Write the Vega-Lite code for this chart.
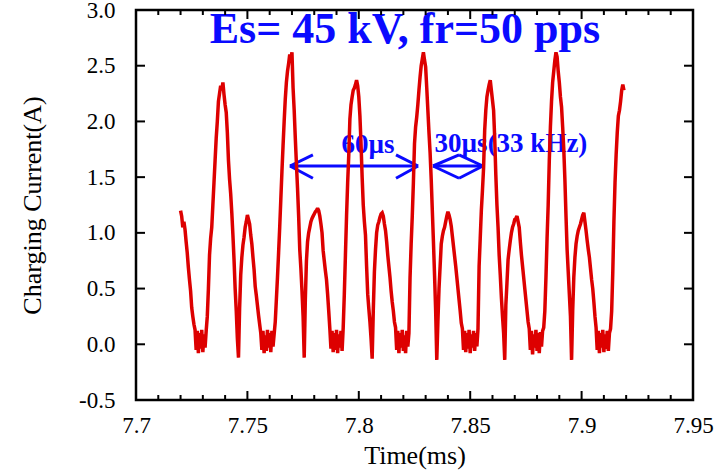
{
  "$schema": "https://vega.github.io/schema/vega-lite/v6.json",
  "autosize": {"type": "none"},
  "width": 557,
  "height": 390,
  "padding": {"left": 136, "top": 10, "right": 32, "bottom": 72},
  "background": "white",
  "config": {
    "view": {"stroke": null},
    "axis": {
      "labelFont": "Liberation Serif",
      "labelFontSize": 23,
      "labelColor": "black",
      "titleFont": "Liberation Serif",
      "titleFontSize": 26,
      "titleFontWeight": "normal",
      "titleColor": "black"
    }
  },
  "datasets": {
    "trace": [
{"t":7.7200,"i":1.20},{"t":7.7205,"i":1.15},{"t":7.7210,"i":1.05},{"t":7.7215,"i":1.10},{"t":7.7220,"i":1.03},{"t":7.7225,"i":0.92},{"t":7.7230,"i":0.82},{"t":7.7235,"i":0.69},{"t":7.7240,"i":0.58},{"t":7.7245,"i":0.48},
{"t":7.7250,"i":0.33},{"t":7.7255,"i":0.25},{"t":7.7260,"i":0.18},{"t":7.7265,"i":0.13},{"t":7.7270,"i":-0.05},{"t":7.7275,"i":0.12},{"t":7.7280,"i":-0.08},{"t":7.7285,"i":0.10},{"t":7.7290,"i":-0.04},{"t":7.7295,"i":0.13},
{"t":7.7300,"i":-0.07},{"t":7.7305,"i":0.09},{"t":7.7310,"i":-0.03},{"t":7.7315,"i":0.12},{"t":7.7320,"i":0.25},{"t":7.7325,"i":0.50},{"t":7.7330,"i":0.80},{"t":7.7335,"i":0.95},{"t":7.7340,"i":1.05},{"t":7.7345,"i":1.25},
{"t":7.7350,"i":1.45},{"t":7.7355,"i":1.65},{"t":7.7360,"i":1.85},{"t":7.7365,"i":2.00},{"t":7.7370,"i":2.18},{"t":7.7375,"i":2.25},{"t":7.7380,"i":2.32},{"t":7.7385,"i":2.28},{"t":7.7390,"i":2.35},{"t":7.7395,"i":2.24},
{"t":7.7400,"i":2.15},{"t":7.7405,"i":2.08},{"t":7.7410,"i":1.90},{"t":7.7415,"i":1.65},{"t":7.7420,"i":1.48},{"t":7.7425,"i":1.35},{"t":7.7430,"i":1.18},{"t":7.7435,"i":0.98},{"t":7.7440,"i":0.76},{"t":7.7445,"i":0.50},
{"t":7.7450,"i":0.30},{"t":7.7455,"i":0.05},{"t":7.7460,"i":-0.12},{"t":7.7465,"i":0.32},{"t":7.7470,"i":0.62},{"t":7.7475,"i":0.78},{"t":7.7480,"i":0.89},{"t":7.7485,"i":0.96},{"t":7.7490,"i":1.05},{"t":7.7495,"i":1.10},
{"t":7.7500,"i":1.16},{"t":7.7505,"i":1.12},{"t":7.7510,"i":1.08},{"t":7.7515,"i":0.98},{"t":7.7520,"i":0.90},{"t":7.7525,"i":0.78},{"t":7.7530,"i":0.67},{"t":7.7535,"i":0.52},{"t":7.7540,"i":0.44},{"t":7.7545,"i":0.35},
{"t":7.7550,"i":0.26},{"t":7.7555,"i":0.18},{"t":7.7560,"i":0.10},{"t":7.7565,"i":-0.05},{"t":7.7570,"i":0.12},{"t":7.7575,"i":-0.08},{"t":7.7580,"i":0.08},{"t":7.7585,"i":-0.06},{"t":7.7590,"i":0.13},{"t":7.7595,"i":-0.03},
{"t":7.7600,"i":0.10},{"t":7.7605,"i":-0.07},{"t":7.7610,"i":0.12},{"t":7.7615,"i":-0.02},{"t":7.7620,"i":0.09},{"t":7.7625,"i":0.20},{"t":7.7630,"i":0.40},{"t":7.7635,"i":0.60},{"t":7.7640,"i":0.82},{"t":7.7645,"i":1.05},
{"t":7.7650,"i":1.30},{"t":7.7655,"i":1.55},{"t":7.7660,"i":1.78},{"t":7.7665,"i":2.00},{"t":7.7670,"i":2.20},{"t":7.7675,"i":2.35},{"t":7.7680,"i":2.45},{"t":7.7685,"i":2.52},{"t":7.7690,"i":2.60},{"t":7.7695,"i":2.56},
{"t":7.7700,"i":2.62},{"t":7.7705,"i":2.30},{"t":7.7710,"i":2.10},{"t":7.7715,"i":1.85},{"t":7.7720,"i":1.62},{"t":7.7725,"i":1.40},{"t":7.7730,"i":1.15},{"t":7.7735,"i":0.85},{"t":7.7740,"i":0.68},{"t":7.7745,"i":0.48},
{"t":7.7750,"i":0.25},{"t":7.7755,"i":-0.12},{"t":7.7760,"i":0.40},{"t":7.7765,"i":0.75},{"t":7.7770,"i":0.92},{"t":7.7775,"i":1.00},{"t":7.7780,"i":1.05},{"t":7.7785,"i":1.10},{"t":7.7790,"i":1.13},{"t":7.7795,"i":1.15},
{"t":7.7800,"i":1.17},{"t":7.7805,"i":1.19},{"t":7.7810,"i":1.20},{"t":7.7815,"i":1.22},{"t":7.7820,"i":1.20},{"t":7.7825,"i":1.15},{"t":7.7830,"i":1.08},{"t":7.7835,"i":1.00},{"t":7.7840,"i":0.84},{"t":7.7845,"i":0.75},
{"t":7.7850,"i":0.66},{"t":7.7855,"i":0.58},{"t":7.7860,"i":0.45},{"t":7.7865,"i":0.30},{"t":7.7870,"i":0.14},{"t":7.7875,"i":-0.04},{"t":7.7880,"i":0.12},{"t":7.7885,"i":-0.07},{"t":7.7890,"i":0.10},{"t":7.7895,"i":-0.05},
{"t":7.7900,"i":0.13},{"t":7.7905,"i":-0.08},{"t":7.7910,"i":0.09},{"t":7.7915,"i":-0.03},{"t":7.7920,"i":0.12},{"t":7.7925,"i":-0.06},{"t":7.7930,"i":0.15},{"t":7.7935,"i":0.45},{"t":7.7940,"i":0.80},{"t":7.7945,"i":1.15},
{"t":7.7950,"i":1.45},{"t":7.7955,"i":1.70},{"t":7.7960,"i":2.02},{"t":7.7965,"i":2.15},{"t":7.7970,"i":2.22},{"t":7.7975,"i":2.28},{"t":7.7980,"i":2.30},{"t":7.7985,"i":2.33},{"t":7.7990,"i":2.37},{"t":7.7995,"i":2.32},
{"t":7.8000,"i":2.22},{"t":7.8005,"i":2.05},{"t":7.8010,"i":1.80},{"t":7.8015,"i":1.50},{"t":7.8020,"i":1.25},{"t":7.8025,"i":1.10},{"t":7.8030,"i":0.98},{"t":7.8035,"i":0.70},{"t":7.8040,"i":0.45},{"t":7.8045,"i":0.32},
{"t":7.8050,"i":0.20},{"t":7.8055,"i":0.05},{"t":7.8060,"i":-0.13},{"t":7.8065,"i":0.30},{"t":7.8070,"i":0.65},{"t":7.8075,"i":0.85},{"t":7.8080,"i":1.00},{"t":7.8085,"i":1.07},{"t":7.8090,"i":1.10},{"t":7.8095,"i":1.14},
{"t":7.8100,"i":1.17},{"t":7.8105,"i":1.18},{"t":7.8110,"i":1.15},{"t":7.8115,"i":1.08},{"t":7.8120,"i":1.02},{"t":7.8125,"i":0.92},{"t":7.8130,"i":0.80},{"t":7.8135,"i":0.70},{"t":7.8140,"i":0.60},{"t":7.8145,"i":0.48},
{"t":7.8150,"i":0.38},{"t":7.8155,"i":0.30},{"t":7.8160,"i":0.20},{"t":7.8165,"i":0.15},{"t":7.8170,"i":-0.05},{"t":7.8175,"i":0.12},{"t":7.8180,"i":-0.08},{"t":7.8185,"i":0.10},{"t":7.8190,"i":-0.03},{"t":7.8195,"i":0.13},
{"t":7.8200,"i":-0.06},{"t":7.8205,"i":0.08},{"t":7.8210,"i":-0.08},{"t":7.8215,"i":0.12},{"t":7.8220,"i":-0.02},{"t":7.8225,"i":0.10},{"t":7.8230,"i":0.60},{"t":7.8235,"i":0.90},{"t":7.8240,"i":1.15},{"t":7.8245,"i":1.45},
{"t":7.8250,"i":1.80},{"t":7.8255,"i":1.95},{"t":7.8260,"i":2.04},{"t":7.8265,"i":2.15},{"t":7.8270,"i":2.28},{"t":7.8275,"i":2.40},{"t":7.8280,"i":2.50},{"t":7.8285,"i":2.56},{"t":7.8290,"i":2.62},{"t":7.8295,"i":2.55},
{"t":7.8300,"i":2.49},{"t":7.8305,"i":2.30},{"t":7.8310,"i":2.10},{"t":7.8315,"i":1.90},{"t":7.8320,"i":1.72},{"t":7.8325,"i":1.48},{"t":7.8330,"i":1.20},{"t":7.8335,"i":0.92},{"t":7.8340,"i":0.62},{"t":7.8345,"i":0.30},
{"t":7.8350,"i":-0.14},{"t":7.8355,"i":0.20},{"t":7.8360,"i":0.50},{"t":7.8365,"i":0.70},{"t":7.8370,"i":0.90},{"t":7.8375,"i":0.97},{"t":7.8380,"i":1.02},{"t":7.8385,"i":1.05},{"t":7.8390,"i":1.10},{"t":7.8395,"i":1.15},
{"t":7.8400,"i":1.19},{"t":7.8405,"i":1.16},{"t":7.8410,"i":1.12},{"t":7.8415,"i":1.06},{"t":7.8420,"i":0.97},{"t":7.8425,"i":0.88},{"t":7.8430,"i":0.79},{"t":7.8435,"i":0.70},{"t":7.8440,"i":0.60},{"t":7.8445,"i":0.50},
{"t":7.8450,"i":0.40},{"t":7.8455,"i":0.30},{"t":7.8460,"i":0.19},{"t":7.8465,"i":0.14},{"t":7.8470,"i":-0.05},{"t":7.8475,"i":0.12},{"t":7.8480,"i":-0.07},{"t":7.8485,"i":0.10},{"t":7.8490,"i":-0.04},{"t":7.8495,"i":0.13},
{"t":7.8500,"i":-0.08},{"t":7.8505,"i":0.09},{"t":7.8510,"i":-0.03},{"t":7.8515,"i":0.12},{"t":7.8520,"i":-0.06},{"t":7.8525,"i":0.10},{"t":7.8530,"i":-0.02},{"t":7.8535,"i":0.14},{"t":7.8540,"i":0.70},{"t":7.8545,"i":0.95},
{"t":7.8550,"i":1.20},{"t":7.8555,"i":1.38},{"t":7.8560,"i":1.58},{"t":7.8565,"i":1.92},{"t":7.8570,"i":2.10},{"t":7.8575,"i":2.22},{"t":7.8580,"i":2.28},{"t":7.8585,"i":2.33},{"t":7.8590,"i":2.37},{"t":7.8595,"i":2.28},
{"t":7.8600,"i":2.19},{"t":7.8605,"i":2.10},{"t":7.8610,"i":1.85},{"t":7.8615,"i":1.52},{"t":7.8620,"i":1.25},{"t":7.8625,"i":1.05},{"t":7.8630,"i":0.80},{"t":7.8635,"i":0.62},{"t":7.8640,"i":0.42},{"t":7.8645,"i":0.25},
{"t":7.8650,"i":0.10},{"t":7.8655,"i":-0.14},{"t":7.8660,"i":0.35},{"t":7.8665,"i":0.55},{"t":7.8670,"i":0.76},{"t":7.8675,"i":0.85},{"t":7.8680,"i":0.93},{"t":7.8685,"i":1.00},{"t":7.8690,"i":1.05},{"t":7.8695,"i":1.08},
{"t":7.8700,"i":1.12},{"t":7.8705,"i":1.13},{"t":7.8710,"i":1.15},{"t":7.8715,"i":1.10},{"t":7.8720,"i":1.05},{"t":7.8725,"i":0.92},{"t":7.8730,"i":0.80},{"t":7.8735,"i":0.70},{"t":7.8740,"i":0.60},{"t":7.8745,"i":0.50},
{"t":7.8750,"i":0.40},{"t":7.8755,"i":0.30},{"t":7.8760,"i":0.20},{"t":7.8765,"i":0.14},{"t":7.8770,"i":-0.05},{"t":7.8775,"i":0.12},{"t":7.8780,"i":-0.09},{"t":7.8785,"i":0.09},{"t":7.8790,"i":-0.03},{"t":7.8795,"i":0.13},
{"t":7.8800,"i":-0.06},{"t":7.8805,"i":0.10},{"t":7.8810,"i":-0.08},{"t":7.8815,"i":0.11},{"t":7.8820,"i":-0.02},{"t":7.8825,"i":0.12},{"t":7.8830,"i":0.15},{"t":7.8835,"i":0.30},{"t":7.8840,"i":0.60},{"t":7.8845,"i":0.95},
{"t":7.8850,"i":1.25},{"t":7.8855,"i":1.65},{"t":7.8860,"i":1.95},{"t":7.8865,"i":2.18},{"t":7.8870,"i":2.35},{"t":7.8875,"i":2.45},{"t":7.8880,"i":2.55},{"t":7.8885,"i":2.62},{"t":7.8890,"i":2.58},{"t":7.8895,"i":2.45},
{"t":7.8900,"i":2.35},{"t":7.8905,"i":2.22},{"t":7.8910,"i":2.13},{"t":7.8915,"i":1.95},{"t":7.8920,"i":1.75},{"t":7.8925,"i":1.48},{"t":7.8930,"i":1.15},{"t":7.8935,"i":0.85},{"t":7.8940,"i":0.65},{"t":7.8945,"i":0.45},
{"t":7.8950,"i":0.25},{"t":7.8955,"i":-0.14},{"t":7.8960,"i":0.30},{"t":7.8965,"i":0.60},{"t":7.8970,"i":0.78},{"t":7.8975,"i":0.90},{"t":7.8980,"i":0.97},{"t":7.8985,"i":1.02},{"t":7.8990,"i":1.05},{"t":7.8995,"i":1.08},
{"t":7.9000,"i":1.12},{"t":7.9005,"i":1.16},{"t":7.9010,"i":1.18},{"t":7.9015,"i":1.10},{"t":7.9020,"i":1.02},{"t":7.9025,"i":0.93},{"t":7.9030,"i":0.85},{"t":7.9035,"i":0.78},{"t":7.9040,"i":0.68},{"t":7.9045,"i":0.58},
{"t":7.9050,"i":0.50},{"t":7.9055,"i":0.38},{"t":7.9060,"i":0.25},{"t":7.9065,"i":0.15},{"t":7.9070,"i":-0.05},{"t":7.9075,"i":0.12},{"t":7.9080,"i":-0.08},{"t":7.9085,"i":0.10},{"t":7.9090,"i":-0.03},{"t":7.9095,"i":0.13},
{"t":7.9100,"i":-0.07},{"t":7.9105,"i":0.09},{"t":7.9110,"i":-0.04},{"t":7.9115,"i":0.12},{"t":7.9120,"i":-0.06},{"t":7.9125,"i":0.10},{"t":7.9130,"i":0.14},{"t":7.9135,"i":0.30},{"t":7.9140,"i":0.65},{"t":7.9145,"i":1.10},
{"t":7.9150,"i":1.45},{"t":7.9155,"i":1.70},{"t":7.9160,"i":1.90},{"t":7.9165,"i":2.05},{"t":7.9170,"i":2.10},{"t":7.9175,"i":2.18},{"t":7.9180,"i":2.28},{"t":7.9185,"i":2.33},{"t":7.9190,"i":2.28}
    ],
    "arrows": [
      {"t":7.7691,"i":1.60,"t2":7.8266,"i2":1.60},
      {"t":7.7691,"i":1.60,"t2":7.7794,"i2":1.70},
      {"t":7.7691,"i":1.60,"t2":7.7794,"i2":1.49},
      {"t":7.8266,"i":1.60,"t2":7.8167,"i2":1.70},
      {"t":7.8266,"i":1.60,"t2":7.8167,"i2":1.49},
      {"t":7.8333,"i":1.60,"t2":7.8557,"i2":1.60},
      {"t":7.8333,"i":1.60,"t2":7.8450,"i2":1.70},
      {"t":7.8333,"i":1.60,"t2":7.8450,"i2":1.49},
      {"t":7.8557,"i":1.60,"t2":7.8450,"i2":1.70},
      {"t":7.8557,"i":1.60,"t2":7.8450,"i2":1.49}
    ],
    "xmajor": [{"v":7.7},{"v":7.75},{"v":7.8},{"v":7.85},{"v":7.9},{"v":7.95}],
    "xminor": [{"v":7.71},{"v":7.72},{"v":7.73},{"v":7.74},{"v":7.76},{"v":7.77},{"v":7.78},{"v":7.79},{"v":7.81},{"v":7.82},{"v":7.83},{"v":7.84},{"v":7.86},{"v":7.87},{"v":7.88},{"v":7.89},{"v":7.91},{"v":7.92},{"v":7.93},{"v":7.94}],
    "ymajor": [{"v":-0.5},{"v":0},{"v":0.5},{"v":1},{"v":1.5},{"v":2},{"v":2.5},{"v":3}],
    "frame": [{"x0":7.7,"x1":7.95,"y0":-0.5,"y1":3.0}]
  },
  "layer": [
    {
      "data": {"name": "arrows"},
      "mark": {"type": "rule", "color": "#0a0aff", "strokeWidth": 3},
      "encoding": {
        "x": {"field": "t", "type": "quantitative", "scale": {"domain": [7.7, 7.95], "nice": false, "zero": false},
          "axis": {"orient": "bottom", "values": [7.7,7.75,7.8,7.85,7.9,7.95], "labelExpr": "format(datum.value, '.3~f')", "ticks": false, "domain": false, "grid": false, "labelPadding": 14, "labelFlush": false, "labelOverlap": false, "title": "Time(ms)", "titlePadding": 5}},
        "x2": {"field": "t2"},
        "y": {"field": "i", "type": "quantitative", "scale": {"domain": [-0.5, 3.0], "nice": false, "zero": false},
          "axis": {"orient": "left", "values": [-0.5,0,0.5,1,1.5,2,2.5,3], "labelExpr": "replace(format(datum.value, '.1f'), '\u2212', '-')", "ticks": false, "domain": false, "grid": false, "labelPadding": 21, "labelFlush": false, "labelOverlap": false, "title": "Charging Current(A)", "titlePadding": 33}},
        "y2": {"field": "i2"}
      }
    },
    {
      "data": {"values": [{"t": 7.8207, "i": 2.704, "txt": "Es= 45 kV, fr=50 pps"}]},
      "mark": {"type": "text", "font": "Liberation Serif", "fontWeight": "bold", "fontSize": 44, "color": "#0a0aff", "align": "center", "baseline": "alphabetic"},
      "encoding": {
        "x": {"field": "t", "type": "quantitative",
          "axis": {"orient": "bottom", "values": [7.7,7.75,7.8,7.85,7.9,7.95], "labelExpr": "format(datum.value, '.3~f')", "ticks": false, "domain": false, "grid": false, "labelPadding": 14, "labelFlush": false, "labelOverlap": false, "title": "Time(ms)", "titlePadding": 5}},
        "y": {"field": "i", "type": "quantitative",
          "axis": {"orient": "left", "values": [-0.5,0,0.5,1,1.5,2,2.5,3], "labelExpr": "replace(format(datum.value, '.1f'), '\u2212', '-')", "ticks": false, "domain": false, "grid": false, "labelPadding": 21, "labelFlush": false, "labelOverlap": false, "title": "Charging Current(A)", "titlePadding": 33}},
        "text": {"field": "txt"}
      }
    },
    {
      "data": {"values": [{"t": 7.8041, "i": 1.717, "txt": "60µs"}, {"t": 7.8683, "i": 1.726, "txt": "30µs(33 kHz)"}]},
      "mark": {"type": "text", "font": "Liberation Serif", "fontWeight": "bold", "fontSize": 27, "color": "#0a0aff", "align": "center", "baseline": "alphabetic"},
      "encoding": {
        "x": {"field": "t", "type": "quantitative",
          "axis": {"orient": "bottom", "values": [7.7,7.75,7.8,7.85,7.9,7.95], "labelExpr": "format(datum.value, '.3~f')", "ticks": false, "domain": false, "grid": false, "labelPadding": 14, "labelFlush": false, "labelOverlap": false, "title": "Time(ms)", "titlePadding": 5}},
        "y": {"field": "i", "type": "quantitative",
          "axis": {"orient": "left", "values": [-0.5,0,0.5,1,1.5,2,2.5,3], "labelExpr": "replace(format(datum.value, '.1f'), '\u2212', '-')", "ticks": false, "domain": false, "grid": false, "labelPadding": 21, "labelFlush": false, "labelOverlap": false, "title": "Charging Current(A)", "titlePadding": 33}},
        "text": {"field": "txt"}
      }
    },
    {
      "data": {"name": "trace"},
      "mark": {"type": "line", "color": "#dd0000", "strokeWidth": 3.5, "strokeJoin": "miter", "strokeMiterLimit": 2},
      "encoding": {
        "x": {"field": "t", "type": "quantitative",
          "axis": {"orient": "bottom", "values": [7.7,7.75,7.8,7.85,7.9,7.95], "labelExpr": "format(datum.value, '.3~f')", "ticks": false, "domain": false, "grid": false, "labelPadding": 14, "labelFlush": false, "labelOverlap": false, "title": "Time(ms)", "titlePadding": 5}},
        "y": {"field": "i", "type": "quantitative",
          "axis": {"orient": "left", "values": [-0.5,0,0.5,1,1.5,2,2.5,3], "labelExpr": "replace(format(datum.value, '.1f'), '\u2212', '-')", "ticks": false, "domain": false, "grid": false, "labelPadding": 21, "labelFlush": false, "labelOverlap": false, "title": "Charging Current(A)", "titlePadding": 33}}
      }
    },
    {
      "data": {"name": "xmajor"},
      "mark": {"type": "tick", "orient": "vertical", "size": 18, "thickness": 2, "color": "black", "opacity": 1, "clip": true},
      "encoding": {
        "x": {"field": "v", "type": "quantitative",
          "axis": {"orient": "bottom", "values": [7.7,7.75,7.8,7.85,7.9,7.95], "labelExpr": "format(datum.value, '.3~f')", "ticks": false, "domain": false, "grid": false, "labelPadding": 14, "labelFlush": false, "labelOverlap": false, "title": "Time(ms)", "titlePadding": 5}},
        "y": {"datum": -0.5, "type": "quantitative",
          "axis": {"orient": "left", "values": [-0.5,0,0.5,1,1.5,2,2.5,3], "labelExpr": "replace(format(datum.value, '.1f'), '\u2212', '-')", "ticks": false, "domain": false, "grid": false, "labelPadding": 21, "labelFlush": false, "labelOverlap": false, "title": "Charging Current(A)", "titlePadding": 33}}
      }
    },
    {
      "data": {"name": "xmajor"},
      "mark": {"type": "tick", "orient": "vertical", "size": 18, "thickness": 2, "color": "black", "opacity": 1, "clip": true},
      "encoding": {
        "x": {"field": "v", "type": "quantitative",
          "axis": {"orient": "bottom", "values": [7.7,7.75,7.8,7.85,7.9,7.95], "labelExpr": "format(datum.value, '.3~f')", "ticks": false, "domain": false, "grid": false, "labelPadding": 14, "labelFlush": false, "labelOverlap": false, "title": "Time(ms)", "titlePadding": 5}},
        "y": {"datum": 3, "type": "quantitative",
          "axis": {"orient": "left", "values": [-0.5,0,0.5,1,1.5,2,2.5,3], "labelExpr": "replace(format(datum.value, '.1f'), '\u2212', '-')", "ticks": false, "domain": false, "grid": false, "labelPadding": 21, "labelFlush": false, "labelOverlap": false, "title": "Charging Current(A)", "titlePadding": 33}}
      }
    },
    {
      "data": {"name": "xminor"},
      "mark": {"type": "tick", "orient": "vertical", "size": 10, "thickness": 2, "color": "black", "opacity": 1, "clip": true},
      "encoding": {
        "x": {"field": "v", "type": "quantitative",
          "axis": {"orient": "bottom", "values": [7.7,7.75,7.8,7.85,7.9,7.95], "labelExpr": "format(datum.value, '.3~f')", "ticks": false, "domain": false, "grid": false, "labelPadding": 14, "labelFlush": false, "labelOverlap": false, "title": "Time(ms)", "titlePadding": 5}},
        "y": {"datum": -0.5, "type": "quantitative",
          "axis": {"orient": "left", "values": [-0.5,0,0.5,1,1.5,2,2.5,3], "labelExpr": "replace(format(datum.value, '.1f'), '\u2212', '-')", "ticks": false, "domain": false, "grid": false, "labelPadding": 21, "labelFlush": false, "labelOverlap": false, "title": "Charging Current(A)", "titlePadding": 33}}
      }
    },
    {
      "data": {"name": "xminor"},
      "mark": {"type": "tick", "orient": "vertical", "size": 10, "thickness": 2, "color": "black", "opacity": 1, "clip": true},
      "encoding": {
        "x": {"field": "v", "type": "quantitative",
          "axis": {"orient": "bottom", "values": [7.7,7.75,7.8,7.85,7.9,7.95], "labelExpr": "format(datum.value, '.3~f')", "ticks": false, "domain": false, "grid": false, "labelPadding": 14, "labelFlush": false, "labelOverlap": false, "title": "Time(ms)", "titlePadding": 5}},
        "y": {"datum": 3, "type": "quantitative",
          "axis": {"orient": "left", "values": [-0.5,0,0.5,1,1.5,2,2.5,3], "labelExpr": "replace(format(datum.value, '.1f'), '\u2212', '-')", "ticks": false, "domain": false, "grid": false, "labelPadding": 21, "labelFlush": false, "labelOverlap": false, "title": "Charging Current(A)", "titlePadding": 33}}
      }
    },
    {
      "data": {"name": "ymajor"},
      "mark": {"type": "tick", "orient": "horizontal", "size": 18, "thickness": 2, "color": "black", "opacity": 1, "clip": true},
      "encoding": {
        "y": {"field": "v", "type": "quantitative",
          "axis": {"orient": "left", "values": [-0.5,0,0.5,1,1.5,2,2.5,3], "labelExpr": "replace(format(datum.value, '.1f'), '\u2212', '-')", "ticks": false, "domain": false, "grid": false, "labelPadding": 21, "labelFlush": false, "labelOverlap": false, "title": "Charging Current(A)", "titlePadding": 33}},
        "x": {"datum": 7.7, "type": "quantitative",
          "axis": {"orient": "bottom", "values": [7.7,7.75,7.8,7.85,7.9,7.95], "labelExpr": "format(datum.value, '.3~f')", "ticks": false, "domain": false, "grid": false, "labelPadding": 14, "labelFlush": false, "labelOverlap": false, "title": "Time(ms)", "titlePadding": 5}}
      }
    },
    {
      "data": {"name": "ymajor"},
      "mark": {"type": "tick", "orient": "horizontal", "size": 18, "thickness": 2, "color": "black", "opacity": 1, "clip": true},
      "encoding": {
        "y": {"field": "v", "type": "quantitative",
          "axis": {"orient": "left", "values": [-0.5,0,0.5,1,1.5,2,2.5,3], "labelExpr": "replace(format(datum.value, '.1f'), '\u2212', '-')", "ticks": false, "domain": false, "grid": false, "labelPadding": 21, "labelFlush": false, "labelOverlap": false, "title": "Charging Current(A)", "titlePadding": 33}},
        "x": {"datum": 7.95, "type": "quantitative",
          "axis": {"orient": "bottom", "values": [7.7,7.75,7.8,7.85,7.9,7.95], "labelExpr": "format(datum.value, '.3~f')", "ticks": false, "domain": false, "grid": false, "labelPadding": 14, "labelFlush": false, "labelOverlap": false, "title": "Time(ms)", "titlePadding": 5}}
      }
    },
    {
      "data": {"name": "frame"},
      "mark": {"type": "rect", "filled": false, "stroke": "black", "strokeWidth": 2.5, "opacity": 1},
      "encoding": {
        "x": {"field": "x0", "type": "quantitative",
          "axis": {"orient": "bottom", "values": [7.7,7.75,7.8,7.85,7.9,7.95], "labelExpr": "format(datum.value, '.3~f')", "ticks": false, "domain": false, "grid": false, "labelPadding": 14, "labelFlush": false, "labelOverlap": false, "title": "Time(ms)", "titlePadding": 5}},
        "x2": {"field": "x1"},
        "y": {"field": "y0", "type": "quantitative",
          "axis": {"orient": "left", "values": [-0.5,0,0.5,1,1.5,2,2.5,3], "labelExpr": "replace(format(datum.value, '.1f'), '\u2212', '-')", "ticks": false, "domain": false, "grid": false, "labelPadding": 21, "labelFlush": false, "labelOverlap": false, "title": "Charging Current(A)", "titlePadding": 33}},
        "y2": {"field": "y1"}
      }
    }
  ]
}
